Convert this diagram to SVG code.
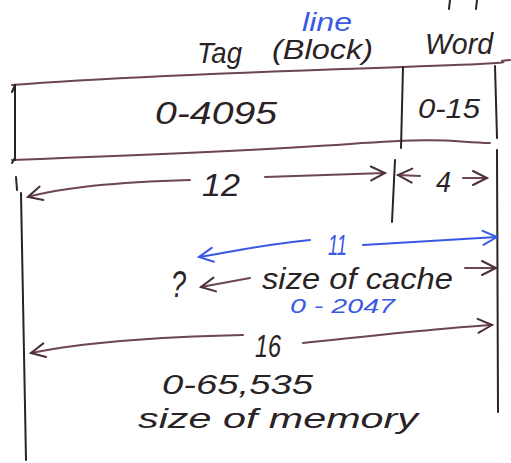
<svg xmlns="http://www.w3.org/2000/svg" width="511" height="463" viewBox="0 0 511 463">
<style>
  .bg{fill:#ffffff}
  .ln{fill:none;stroke:#6e4552;stroke-width:2;stroke-linecap:round}
  .dk{fill:none;stroke:#2a2326;stroke-width:2;stroke-linecap:round}
  .bl{fill:none;stroke:#3a58e6;stroke-width:2;stroke-linecap:round}
  .t{font-family:"Liberation Sans",Arial,sans-serif;font-style:italic;fill:#2a2326}
  .tb{font-family:"Liberation Sans",Arial,sans-serif;font-style:italic;fill:#3a58e6}
</style>
<defs>
  <marker id="ah" markerUnits="userSpaceOnUse" markerWidth="20" markerHeight="18" refX="16" refY="9" orient="auto" viewBox="0 0 20 18">
    <path d="M2,2 L16,9 L2,16" fill="none" stroke="#4a3038" stroke-width="2" stroke-linecap="round"/>
  </marker>
  <marker id="ahb" markerUnits="userSpaceOnUse" markerWidth="20" markerHeight="18" refX="16" refY="9" orient="auto" viewBox="0 0 20 18">
    <path d="M2,2 L16,9 L2,16" fill="none" stroke="#3a58e6" stroke-width="2" stroke-linecap="round"/>
  </marker>
</defs>
<rect class="bg" x="0" y="0" width="511" height="463"/>

<g id="address-box">
  <path class="ln" d="M12,85 C100,78 250,72 403,67 S480,62 510,60"/>
  <path class="ln" d="M12,160 C120,156 250,151 350,144 S450,142 490,143"/>
  <path class="dk" d="M15,85 L15,160"/>
  <path class="dk" d="M12,92 L15,85"/>
  <path class="dk" d="M12,163 L15,158"/>
  <path class="dk" d="M403,67 L401,148"/>
  <path class="dk" d="M495,66 L497,138"/>
  <path class="dk" d="M450,0 L449,9"/>
  <path class="dk" d="M477,0 L476,9"/>
</g>

<g id="tag-field">
  <text class="t" x="197" y="63" font-size="29" textLength="45" lengthAdjust="spacingAndGlyphs">Tag</text>
  <text class="t" x="272" y="59" font-size="28" textLength="101" lengthAdjust="spacingAndGlyphs">(Block)</text>
  <text class="tb" x="302" y="31" font-size="25" textLength="50" lengthAdjust="spacingAndGlyphs">line</text>
  <text class="t" x="155" y="124" font-size="32" textLength="122" lengthAdjust="spacingAndGlyphs">0-4095</text>
</g>

<g id="word-field">
  <text class="t" x="425" y="54" font-size="29" textLength="68" lengthAdjust="spacingAndGlyphs">Word</text>
  <text class="t" x="418" y="118" font-size="28" textLength="62" lengthAdjust="spacingAndGlyphs">0-15</text>
</g>

<g id="guides">
  <path class="dk" d="M16,177 L17,190"/>
  <path class="dk" d="M21,193 L26,460"/>
  <path class="dk" d="M395,160 L392,222"/>
  <path class="dk" d="M497,150 L498,412"/>
</g>

<g id="connectors">
  <path class="ln" d="M190,180 C120,182 60,188 28,197" marker-end="url(#ah)"/>
  <path class="ln" d="M265,177 L385,173" marker-end="url(#ah)"/>
  <path class="ln" d="M420,176 L398,175" marker-end="url(#ah)"/>
  <path class="ln" d="M463,178 L487,178" marker-end="url(#ah)"/>
  <path class="bl" d="M310,240 C260,245 230,252 199,257" marker-end="url(#ahb)"/>
  <path class="bl" d="M363,245 L497,237" marker-end="url(#ahb)"/>
  <path class="ln" d="M250,278 L201,287" marker-end="url(#ah)"/>
  <path class="ln" d="M465,268 L496,268" marker-end="url(#ah)"/>
  <path class="ln" d="M243,335 C150,337 80,343 31,353" marker-end="url(#ah)"/>
  <path class="ln" d="M303,343 C380,335 440,328 492,325" marker-end="url(#ah)"/>
</g>

<g id="labels">
  <text class="t" x="202" y="196" font-size="32" textLength="38" lengthAdjust="spacingAndGlyphs">12</text>
  <text class="t" x="436" y="192" font-size="30" textLength="15" lengthAdjust="spacingAndGlyphs">4</text>
  <text class="tb" x="328" y="255" font-size="30" textLength="19" lengthAdjust="spacingAndGlyphs">11</text>
  <text class="t" x="171" y="297" font-size="36" textLength="15" lengthAdjust="spacingAndGlyphs">?</text>
  <text class="t" x="262" y="289" font-size="29" textLength="191" lengthAdjust="spacingAndGlyphs">size of cache</text>
  <text class="tb" x="290" y="313" font-size="20" textLength="105" lengthAdjust="spacingAndGlyphs">0 - 2047</text>
  <text class="t" x="255" y="357" font-size="32" textLength="26" lengthAdjust="spacingAndGlyphs">16</text>
  <text class="t" x="162" y="394" font-size="28" textLength="151" lengthAdjust="spacingAndGlyphs">0-65,535</text>
  <text class="t" x="138" y="428" font-size="28" textLength="280" lengthAdjust="spacingAndGlyphs">size of memory</text>
</g>
</svg>
